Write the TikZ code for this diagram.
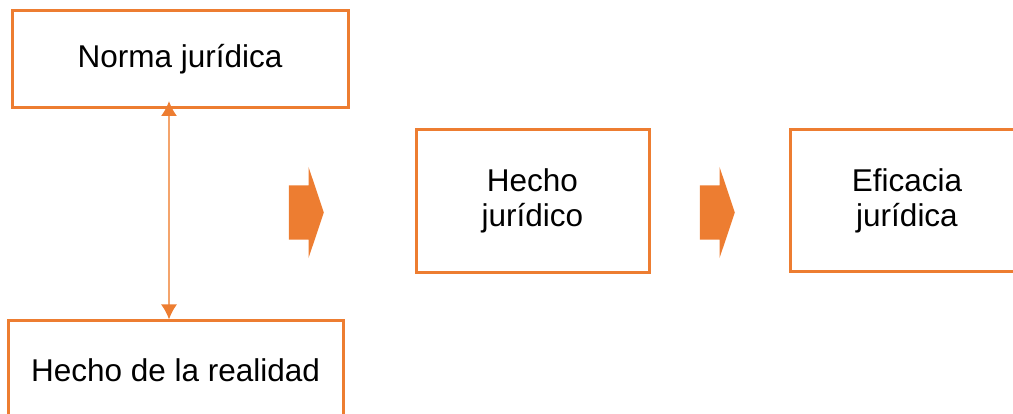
\documentclass[tikz,border=0pt]{standalone}
\usepackage{fontspec}
\setmainfont{Liberation Sans}
\usepackage{tikz}
\usetikzlibrary{arrows.meta, positioning, shapes.arrows}
\definecolor{naranja}{HTML}{ED7D31}
\definecolor{naranjaclaro}{HTML}{F4A46C}

\begin{document}
\begin{tikzpicture}[x=1pt, y=-1pt, font=\fontsize{31.5}{35}\selectfont,
caja/.style={draw=naranja, line width=3, align=center, inner sep=0},
flecha/.style={single arrow, fill=naranja, draw=none, inner xsep=0, inner ysep=27,
  minimum height=35, single arrow head extend=18.5, single arrow tip angle=143}
]
    % Frame
    \useasboundingbox (0,0) rectangle (1013,414);
    \clip (0,0) rectangle (1013,414);

    % Boxes
    \node (norma) at (180,59) [caja, minimum width=336, minimum height=97] {Norma jurídica};
    \node (realidad) at (175.5,370) [caja, minimum width=335, minimum height=98] {Hecho de la realidad};
    \node (hecho) at (532.5,201) [caja, minimum width=233, minimum height=143] {Hecho\\jurídico};
    \node (eficacia) at (907,201) [caja, minimum width=234, minimum height=142] {Eficacia\\jurídica};

    % Block arrows
    \node (flecha1) at (324,212.5) [flecha, anchor=tip] {};
    \node (flecha2) at (735,212.5) [flecha, anchor=tip] {};

    % Double arrow
    \coordinate (arriba) at ([xshift=-11, yshift=8]norma.south);
    \draw [naranjaclaro, line width=1.8, {Latex[length=15, width=16, color=naranja]}-{Latex[length=15, width=16, color=naranja]}]
        (arriba) -- (arriba |- realidad.north);

\end{tikzpicture}
\end{document}
